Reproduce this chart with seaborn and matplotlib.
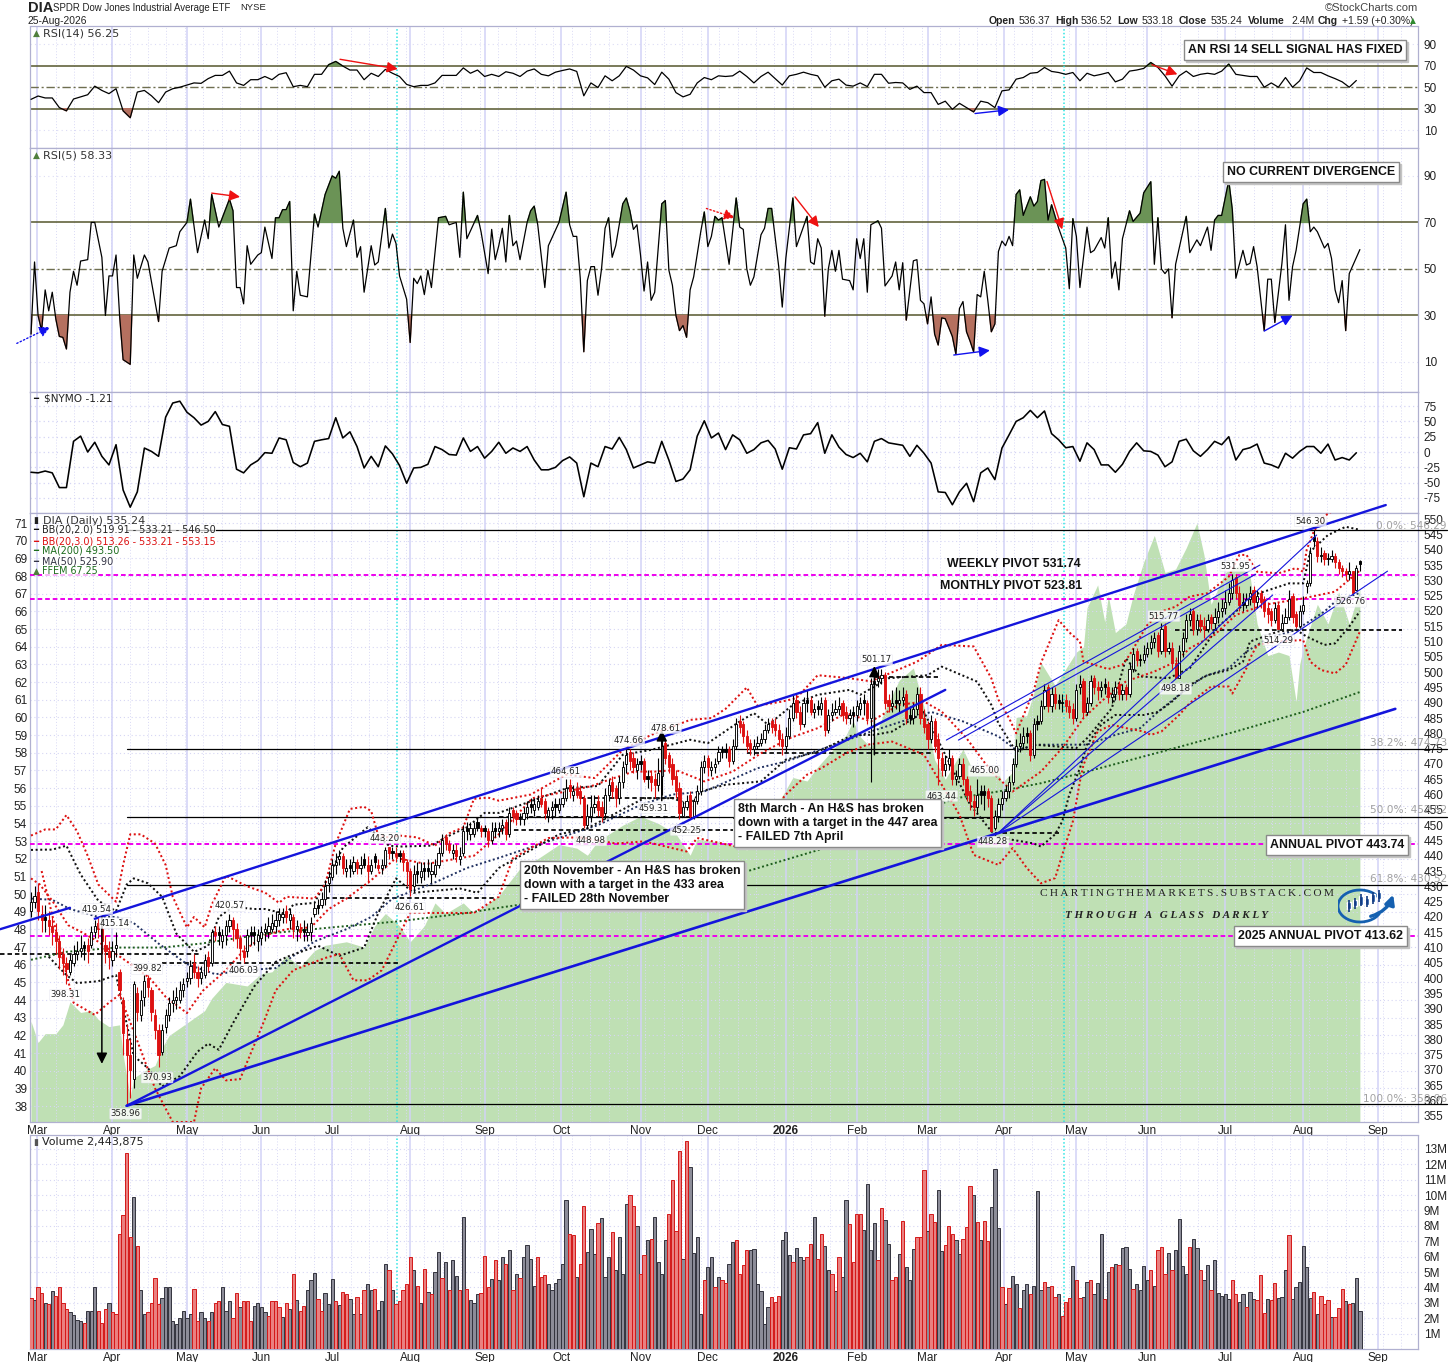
import matplotlib
matplotlib.use("Agg")
import matplotlib.pyplot as plt
import numpy as np
import seaborn as sns
from matplotlib.patches import Arc

W, H = 1456, 1362

# month labels and their bar numbers
month_labels = ["Mar", "Apr", "May", "Jun", "Jul", "Aug", "Sep", "Oct", "Nov", "Dec", "2026",
                "Feb", "Mar", "Apr", "May", "Jun", "Jul", "Aug", "Sep"]
month_bars = [1.7, 23, 44, 65, 85, 107, 128, 149.6, 172, 191, 213, 233, 253, 274.6, 295, 315, 337, 359, 380]
event_bars = [103.3, 291.5]

closes = [
    425, 427, 422, 419, 419, 417, 415, 412, 407, 405,
    403, 406, 408, 409, 410, 410, 409, 415, 417, 416,
    412, 409, 407, 409, 411, 396, 382, 375, 370, 398,
    389, 393, 399, 397, 389, 383, 375, 383, 388, 392,
    393, 394, 396, 398, 400, 404, 402, 400, 402, 406,
    404, 415, 414, 414, 414, 417, 419, 416, 413, 410,
    407, 414, 414, 414, 414, 415, 416, 417, 418, 419,
    421, 421, 420, 421, 416, 417, 415, 415, 415, 418,
    423, 423, 426, 430, 433, 437, 438, 440, 436, 436,
    436, 438, 436, 437, 437, 435, 437, 438, 436, 437,
    442, 441, 441, 440, 440, 438, 435, 429, 434, 434,
    435, 435, 435, 435, 437, 441, 445, 444, 442, 442,
    440, 440, 448, 448, 449, 449, 449, 448, 448, 445,
    448, 448, 449, 450, 447, 454, 453, 452, 452, 454,
    456, 456, 457, 458, 457, 454, 455, 456, 456, 457,
    459, 462, 461, 461, 460, 459, 450, 453, 456, 457,
    455, 453, 460, 463, 461, 459, 464, 469, 473, 471,
    469, 470, 470, 465, 465, 464, 463, 467, 476, 472,
    469, 465, 461, 454, 456, 458, 453, 458, 461, 469,
    471, 469, 469, 470, 474, 474, 474, 471, 476, 483,
    482, 479, 476, 475, 476, 477, 478, 481, 483, 482,
    481, 478, 476, 479, 485, 490, 487, 483, 490, 490,
    487, 488, 488, 490, 481, 486, 487, 488, 489, 486,
    485, 486, 486, 489, 490, 490, 485, 496, 497, 498,
    499, 490, 489, 490, 490, 491, 492, 485, 485, 488,
    493, 485, 482, 478, 484, 476, 472, 468, 470, 472,
    465, 466, 470, 465, 460, 458, 456, 460, 460, 460,
    459, 448, 453, 457, 459, 461, 464, 470, 476, 477,
    479, 479, 473, 483, 483, 489, 494, 489, 493, 490,
    490, 490, 489, 487, 485, 494, 496, 487, 490, 497,
    495, 494, 495, 495, 492, 493, 495, 493, 494, 493,
    501, 506, 504, 504, 506, 508, 510, 511, 507, 514,
    507, 508, 503, 498, 507, 511, 517, 519, 514, 517,
    515, 514, 517, 516, 518, 520, 521, 523, 526, 530,
    526, 522, 522, 524, 526, 523, 525, 523, 520, 519,
    517, 521, 514, 516, 518, 524, 518, 515, 520, 522,
    529, 539, 543, 538, 538, 537, 537, 538, 536, 534,
    533, 532, 533, 526, 534, 535.24,
]
opens = [
    422, 425, 428, 421, 420, 419, 417, 415, 412, 408,
    405, 402, 405, 408, 409, 411, 411, 411, 415, 418,
    416, 411, 409, 406, 410, 402, 393, 380, 375, 367,
    395, 388, 394, 400, 396, 388, 383, 376, 384, 388,
    392, 393, 393, 396, 399, 400, 405, 402, 400, 401,
    407, 405, 415, 415, 412, 414, 417, 419, 416, 413,
    409, 409, 415, 415, 412, 413, 415, 415, 416, 417,
    419, 420, 422, 419, 420, 416, 416, 416, 414, 415,
    421, 424, 424, 426, 431, 433, 437, 439, 440, 435,
    437, 435, 438, 436, 439, 437, 435, 440, 437, 436,
    437, 443, 441, 441, 441, 441, 438, 435, 430, 435,
    433, 436, 436, 434, 434, 437, 441, 446, 444, 441,
    442, 439, 441, 449, 447, 447, 451, 449, 449, 448,
    445, 449, 448, 449, 451, 447, 455, 454, 452, 452,
    454, 457, 455, 456, 459, 458, 453, 455, 457, 455,
    457, 459, 463, 460, 462, 461, 459, 450, 453, 456,
    458, 456, 454, 460, 464, 462, 459, 464, 470, 474,
    472, 468, 471, 471, 466, 466, 465, 463, 466, 477,
    473, 470, 466, 462, 453, 456, 460, 453, 458, 461,
    469, 472, 468, 469, 471, 475, 475, 475, 471, 476,
    484, 483, 479, 477, 475, 476, 477, 478, 481, 484,
    483, 481, 478, 476, 479, 485, 491, 487, 483, 491,
    491, 487, 489, 488, 491, 481, 486, 487, 488, 490,
    487, 485, 487, 486, 488, 491, 490, 485, 496, 497,
    498, 499, 491, 489, 491, 490, 491, 493, 486, 485,
    488, 493, 485, 483, 478, 484, 478, 472, 468, 470,
    472, 465, 466, 470, 465, 461, 458, 456, 461, 461,
    461, 459, 449, 453, 457, 459, 461, 464, 470, 476,
    477, 480, 480, 473, 484, 484, 489, 495, 489, 493,
    491, 490, 491, 489, 488, 485, 495, 497, 487, 490,
    498, 495, 494, 496, 495, 492, 493, 496, 493, 495,
    493, 501, 507, 504, 504, 506, 508, 510, 512, 507,
    515, 507, 508, 503, 498, 507, 511, 517, 520, 514,
    517, 515, 514, 518, 516, 518, 520, 521, 523, 526,
    531, 526, 523, 522, 524, 527, 523, 526, 524, 521,
    520, 517, 522, 514, 516, 518, 525, 519, 515, 520,
    528, 529, 544, 543, 538, 539, 537, 537, 538, 536,
    534, 533, 532, 533, 527, 536.37,
]
highs = [
    428, 430, 431, 424, 424, 422, 420, 418, 414, 410,
    407, 408, 411, 412, 414, 412, 413, 417, 419, 420,
    417, 414, 412, 412, 415, 403, 394, 385, 380, 399,
    397, 396, 401, 401, 397, 390, 385, 385, 390, 394,
    396, 397, 399, 400, 402, 406, 408, 404, 404, 408,
    409, 416, 417, 417, 416, 419, 421, 420, 418, 414,
    411, 416, 417, 417, 416, 417, 418, 420, 421, 422,
    423, 423, 424, 423, 421, 419, 418, 419, 418, 420,
    425, 426, 428, 432, 435, 439, 441, 442, 441, 439,
    439, 440, 439, 440, 441, 440, 439, 441, 439, 439,
    443, 443, 443, 443, 442, 442, 439, 436, 437, 438,
    438, 438, 439, 438, 439, 443, 447, 447, 445, 444,
    444, 443, 450, 451, 451, 451, 452, 450, 450, 449,
    451, 451, 451, 452, 452, 456, 456, 455, 454, 456,
    458, 459, 459, 460, 462, 459, 456, 458, 459, 459,
    461, 465, 465, 463, 464, 463, 460, 457, 460, 460,
    460, 458, 462, 465, 466, 463, 466, 471, 475, 475,
    474, 472, 473, 472, 468, 468, 467, 472, 479, 478,
    474, 472, 468, 464, 458, 460, 461, 459, 463, 471,
    473, 473, 471, 472, 476, 476, 477, 476, 478, 485,
    486, 484, 481, 478, 478, 479, 480, 483, 485, 485,
    485, 483, 480, 482, 488, 493, 493, 489, 492, 494,
    492, 490, 491, 492, 492, 488, 490, 491, 492, 491,
    489, 488, 489, 491, 492, 493, 491, 498, 499, 501,
    501, 500, 493, 494, 495, 494, 495, 494, 489, 490,
    495, 495, 488, 484, 486, 485, 480, 474, 473, 475,
    473, 468, 472, 472, 466, 463, 460, 465, 463, 463,
    462, 460, 455, 459, 461, 463, 466, 472, 478, 480,
    482, 482, 481, 485, 486, 491, 496, 496, 495, 495,
    493, 493, 493, 491, 490, 496, 499, 498, 492, 499,
    499, 497, 497, 498, 497, 495, 497, 497, 496, 496,
    503, 508, 508, 506, 509, 510, 512, 513, 513, 516,
    516, 510, 510, 505, 509, 513, 519, 521, 521, 519,
    519, 518, 519, 519, 521, 523, 524, 527, 529, 532,
    532, 528, 526, 526, 528, 528, 527, 527, 525, 523,
    521, 523, 523, 519, 521, 527, 526, 520, 522, 525,
    530, 541, 546.3, 544, 541, 540, 539, 540, 539, 537,
    535, 534, 536, 533, 535, 536.52,
]
lows = [
    420, 423, 419, 415, 415, 414, 411, 408, 403, 401,
    398, 401, 404, 406, 407, 406, 405, 410, 413, 413,
    408, 405, 403, 404, 407, 394, 375, 359, 361, 364,
    386, 386, 391, 394, 386, 380, 371, 375, 382, 386,
    389, 390, 392, 394, 397, 398, 400, 397, 398, 400,
    402, 404, 412, 411, 410, 411, 415, 412, 410, 406,
    405, 407, 411, 411, 409, 411, 412, 413, 415, 415,
    417, 418, 418, 416, 413, 412, 413, 412, 412, 412,
    420, 421, 423, 424, 428, 432, 434, 437, 434, 433,
    433, 434, 434, 434, 436, 431, 434, 436, 435, 434,
    436, 439, 439, 438, 438, 435, 430, 427, 428, 431,
    431, 432, 433, 431, 433, 436, 440, 442, 441, 439,
    438, 437, 440, 445, 445, 446, 448, 446, 446, 443,
    444, 446, 446, 447, 445, 446, 451, 450, 450, 450,
    452, 454, 453, 455, 456, 452, 451, 452, 453, 454,
    456, 458, 459, 458, 459, 457, 449, 449, 451, 454,
    453, 451, 452, 458, 459, 456, 457, 462, 467, 468,
    467, 465, 468, 464, 462, 461, 459, 461, 460, 470,
    467, 463, 459, 452, 453, 455, 452, 452, 457, 460,
    467, 466, 466, 467, 470, 472, 472, 469, 470, 475,
    480, 477, 474, 473, 473, 475, 476, 477, 480, 480,
    479, 476, 473, 474, 478, 484, 485, 481, 482, 487,
    486, 485, 486, 486, 479, 480, 484, 486, 486, 484,
    483, 483, 482, 484, 486, 486, 483, 464, 494, 495,
    496, 488, 487, 487, 488, 487, 489, 483, 483, 483,
    486, 483, 480, 475, 477, 474, 463, 466, 466, 468,
    463, 463, 465, 463, 458, 455, 453, 454, 457, 455,
    456, 448.28, 448.5, 451, 455, 458, 459, 463, 469, 474,
    475, 477, 471, 472, 481, 483, 488, 487, 487, 488,
    488, 487, 487, 485, 483, 484, 493, 485, 486, 489,
    493, 491, 492, 493, 490, 490, 491, 491, 491, 491,
    492, 500, 502, 502, 503, 505, 506, 508, 505, 506,
    505, 506, 501, 498.18, 498.5, 505, 510, 515, 512, 512,
    513, 511, 513, 514, 514, 516, 518, 519, 522, 524,
    524, 520, 520, 521, 522, 520, 521, 521, 518, 516,
    515, 516, 514.29, 514.5, 516, 517, 516, 514.5, 514.5, 519,
    526, 528, 541, 536, 536, 535, 535, 536, 534, 532,
    531, 530, 530, 526.76, 527, 533.18,
]

volumes = [
    3.3, 3.2, 4.0, 3.65, 3.0, 2.9, 3.75, 3.45, 4.0, 3.0,
    2.6, 2.4, 2.2, 1.9, 1.8, 1.7, 2.5, 2.5, 4.0, 2.5,
    1.7, 2.6, 3.0, 2.4, 2.3, 7.45, 8.7, 12.75, 7.3, 9.9,
    6.7, 3.85, 2.3, 2.4, 3.0, 4.6, 2.9, 3.3, 4.05, 4.05,
    1.85, 1.6, 2.0, 2.5, 2.0, 2.3, 3.9, 1.8, 2.4, 2.0,
    1.85, 2.4, 3.0, 3.1, 4.0, 2.5, 3.15, 2.0, 3.65, 2.7,
    3.15, 3.15, 1.8, 2.8, 3.0, 2.7, 2.4, 2.15, 3.1, 3.1,
    2.75, 2.05, 3.0, 2.6, 4.85, 3.2, 2.5, 2.8, 3.8, 4.45,
    4.95, 3.25, 2.45, 3.65, 2.9, 4.55, 3.1, 2.85, 3.7, 3.6,
    3.25, 2.3, 3.35, 2.25, 3.85, 4.25, 3.85, 3.9, 2.55, 3.1,
    5.55, 5.1, 3.8, 2.95, 3.1, 3.85, 4.25, 6.0, 5.1, 4.1,
    3.0, 5.2, 3.7, 3.6, 5.0, 6.3, 4.6, 5.65, 3.85, 5.8,
    4.75, 3.85, 8.55, 3.9, 3.2, 3.0, 3.6, 3.65, 6.05, 4.0,
    4.55, 5.8, 4.45, 6.0, 5.5, 6.4, 3.85, 4.9, 4.6, 6.0,
    6.75, 5.85, 4.1, 5.95, 4.65, 4.8, 4.2, 3.8, 4.3, 4.55,
    5.5, 9.7, 7.5, 7.4, 4.7, 5.5, 9.3, 6.3, 7.8, 6.2,
    8.2, 8.5, 4.65, 6.0, 7.6, 5.15, 7.3, 4.85, 9.45, 10.0,
    9.3, 8.0, 4.9, 6.1, 7.05, 7.15, 8.6, 5.65, 4.85, 7.1,
    8.75, 11.0, 7.65, 12.85, 5.85, 13.5, 11.85, 6.25, 7.25, 2.3,
    4.45, 5.3, 6.0, 4.0, 4.7, 4.45, 4.3, 5.55, 6.95, 7.1,
    4.9, 5.45, 6.45, 6.4, 6.5, 4.2, 3.75, 1.6, 2.7, 3.35,
    3.05, 3.45, 7.05, 7.6, 6.1, 5.65, 6.55, 6.0, 5.75, 6.0,
    6.8, 8.55, 5.85, 7.5, 6.7, 5.1, 4.9, 3.75, 6.0, 4.7,
    9.7, 8.15, 5.65, 8.8, 8.8, 7.75, 10.7, 6.4, 8.2, 5.75,
    9.15, 8.4, 6.8, 4.5, 4.7, 6.15, 8.3, 5.35, 4.5, 6.5,
    7.25, 7.25, 11.6, 7.65, 8.8, 8.25, 10.3, 6.35, 6.75, 8.0,
    7.5, 7.1, 6.2, 7.15, 7.9, 10.6, 10.0, 8.25, 7.05, 8.3,
    7.0, 9.2, 11.7, 7.85, 4.0, 2.9, 3.95, 4.75, 4.25, 2.65,
    3.85, 4.25, 3.55, 4.1, 10.25, 3.8, 4.35, 4.05, 4.1, 3.4, 3.6,
    2.15, 3.05, 3.3, 5.4, 4.45, 3.3, 3.4, 4.35, 4.5, 3.55,
    4.3, 7.45, 3.25, 5.0, 5.35, 5.55, 5.45, 6.55, 6.6, 5.2,
    3.9, 4.25, 3.8, 5.4, 4.45, 5.1, 4.1, 6.45, 6.6, 4.85,
    6.25, 5.15, 6.4, 8.45, 5.4, 4.85, 6.6, 7.15, 6.55, 5.1,
    4.45, 5.45, 3.8, 5.75, 3.65, 3.45, 3.6, 3.25, 4.5, 3.6,
    3.05, 3.55, 2.75, 3.7, 3.25, 3.2, 4.8, 2.35, 3.25, 3.2,
    4.3, 3.3, 3.4, 5.15, 7.4, 3.25, 4.0, 4.35, 6.7, 5.3, 3.3,
    3.7, 2.25, 3.45, 2.9, 3.2, 2.05, 2.1, 2.65, 3.9, 3.1,
    2.9, 3.0, 4.6, 2.44,
]
# r = down day, g = up day, one letter a bar
volume_colors = (
    "rgrrgrgrrr" "rggggrgggr" "rrgrrrrrrg" "rggrrrrggg" "ggggggrrgg" "rgrrgggrrg"
    "rrrggggrrr" "rgrgrgrrgg" "grrgggrgrr" "ggrgrggrgg" "grgrrrrrgr" "grgrggrgrg"
    "grgrgggrrr" "grggrgrgrg" "gggrrrgggg" "ggrrgrrggg" "rgggrggggr" "rgrrgrgggg"
    "rrrrgrgggg" "rggrgrrggr" "rrrggggggr" "rrgggrgggr" "rgrrggrgrg" "grrrrggggr"
    "rggrrgrggg" "rrrgrrggrr" "rggrrrgrgr" "rgggrgrggr" "ggrgggrgrrg" "rrrgrrggrg"
    "ggrgrgrggg" "rggggrgrr" "r" "grggggrggr" "ggrgggggrr" "ggrggrrrgr" "rgggrggggg"
    "g" "rgrrrgrrrg" "rggg"
)

# RSI(14), one reading every second bar
rsi14 = [
    38.7, 41.8, 40, 40, 31, 28, 39, 41, 43, 51, 47, 44, 48.6, 28, 21.6, 45.5, 47, 42, 35.6, 45.5,
    48.6, 50, 52, 54, 53.6, 58, 61, 61, 65, 54, 51.7, 57, 57, 60, 57, 62, 63.5, 50.5, 51.7, 50.5,
    62, 62, 71, 74, 69.7, 66, 66, 57, 63, 60, 66.6, 63, 60, 52.6, 50.5, 51.7, 51.7, 54, 61, 61,
    61, 68, 63, 66, 60, 62, 60, 64.4, 63, 60, 65, 67, 62, 60.6, 64, 65.6, 67, 64.7, 42, 54,
    49.7, 60.6, 56, 60.6, 69.4, 66, 60.6, 58.7, 52.5, 64, 57.5, 45, 41, 43.4, 54, 59, 57, 60.6, 60, 60.6,
    65, 60, 54, 60, 64, 58, 52, 60.6, 62, 64, 62, 60.6, 50, 56, 57.5, 52, 51, 54, 50.6, 62,
    62, 53.7, 54.4, 54, 48, 51, 45, 45, 34, 37, 29.4, 35, 31, 27, 37, 35.6, 31, 46.6, 47.5, 57.5,
    59, 63, 63.7, 68.4, 64.7, 63.7, 62, 63.7, 56, 63, 60.6, 62, 63.7, 55, 57.5, 65, 66, 67.5, 73, 68.4,
    60.6, 51, 60.6, 65, 60, 62, 63, 62, 65, 71.6, 62, 61, 60, 60, 50, 54, 50, 59, 50, 56,
    68, 63.7, 63.7, 60.6, 58, 55, 50, 56.25,
]
# RSI(5), turning points
rsi5_bars = [
    0, 1, 2, 3, 4, 5, 6, 7, 8, 9, 10, 11, 12, 13, 14, 16, 17, 18, 20, 21, 22, 23, 24, 25, 26, 28, 29, 30, 32, 33,
    36, 37, 39, 41, 42, 44, 45, 47, 49, 50, 51, 53, 56, 57, 58, 59, 60, 61, 62, 64, 65, 66, 68, 69, 70, 71, 72, 73, 74, 75,
    76, 78, 80, 81, 83, 85, 86, 87, 88, 89, 91, 92, 93, 94, 96, 97, 98, 100, 101, 102, 103, 104, 106, 107, 108, 109, 110, 111, 112, 113,
    115, 117, 118, 120, 121, 122, 123, 126, 127, 129, 130, 131, 132, 133, 134, 135, 136, 137, 138, 140, 141, 142, 143, 145, 146, 149, 151, 152, 153, 154,
    155, 156, 157, 158, 159, 160, 161, 162, 163, 164, 165, 167, 168, 169, 170, 171, 172, 173, 174, 175, 176, 178, 179, 180, 181, 182, 183, 184, 185, 186,
    187, 189, 190, 191, 192, 193, 194, 195, 197, 199, 200, 201, 202, 203, 204, 206, 207, 208, 209, 211, 212, 213, 215, 216, 219, 220, 221, 222, 223, 224,
    225, 226, 227, 228, 229, 231, 232, 233, 234, 235, 236, 237, 239, 240, 241, 243, 244, 245, 246, 247, 249, 250, 251, 252, 253, 254, 255, 256, 257, 258,
    260, 261, 262, 263, 264, 265, 266, 267, 268, 269, 270, 271, 272, 273, 274, 275, 276, 277, 278, 279, 280, 282, 283, 284, 285, 286, 287, 288, 290, 292,
    293, 294, 295, 296, 298, 299, 300, 302, 303, 304, 305, 306, 307, 308, 310, 311, 313, 314, 316, 317, 318, 319, 320, 321, 322, 323, 326, 327, 329, 330,
    332, 333, 334, 335, 336, 338, 339, 340, 342, 343, 344, 345, 346, 348, 349, 350, 351, 353, 354, 355, 356, 357, 359, 360, 361, 362, 363, 365, 366, 367,
    368, 369, 370, 371, 372, 375,
]
rsi5 = [
    22, 53, 30, 23.5, 41, 32, 40, 28.6, 21, 20.6, 15.6, 40, 49, 43, 53.4, 54, 70, 70, 55, 30, 47, 47, 56, 30, 11, 9, 56, 46, 56, 53,
    27.4, 49, 59, 60, 66, 70, 80, 57, 71, 63, 82, 68, 80, 75, 42, 42, 35, 60, 52, 56, 57, 68, 54.5, 72, 72, 75.5, 75.5, 79, 32, 49,
    38.7, 38, 73.6, 68, 82, 90, 89, 92, 67.5, 59.6, 71, 55, 59.6, 40, 60, 51.7, 53, 76, 59, 65, 61, 47, 37, 18.4, 46, 43.7, 47, 39, 49.5, 42,
    72, 72.6, 69, 70, 55, 83, 63, 73, 66, 48, 67, 54, 60, 67.5, 53, 73, 60, 62, 54, 70, 75, 77, 69, 42, 60, 70, 83, 69, 64, 64,
    46, 14.4, 45, 51, 51, 38.7, 50, 67.5, 72, 55, 60, 78, 80.5, 75, 67, 69, 56, 40.5, 53, 36.5, 40, 78, 79.4, 49.5, 43, 30, 23.5, 25.7, 20.6, 41,
    46.6, 66, 74.5, 59.6, 64, 72.6, 71, 72, 52, 80.5, 68, 67, 50, 43, 46.6, 64.7, 67.5, 76, 76, 51, 33.6, 54.5, 80.5, 59.6, 72.6, 53, 52, 63, 59, 29.7,
    50, 58, 49, 58, 45.6, 45, 41, 63, 54.5, 63, 40, 69, 70.7, 67.5, 42.7, 47, 53, 41, 52.7, 28, 53.5, 54, 36.5, 35, 26.4, 38, 22, 17.3, 29, 28.6,
    21, 13.4, 33, 36, 23, 19, 14.4, 39, 38, 49, 36.5, 23, 26.4, 57.5, 62, 60, 64, 60, 82, 84, 73, 81, 77, 79, 88, 88.5, 71, 77.6, 67.5, 59,
    41.5, 71.6, 64, 42, 68, 57, 58, 63.5, 59, 72, 46, 53, 41, 63, 75, 70.4, 74, 82.7, 87.5, 52, 72, 50, 48, 50, 29, 52, 72.6, 57, 62.5, 60,
    68, 58, 71, 73, 73, 88, 75.5, 46, 58, 51.7, 52.4, 59.6, 51, 23.5, 45.6, 45.6, 27, 52.4, 69, 36.5, 51, 58, 78, 80, 66, 68, 66, 59, 61, 54.5,
    41, 35.5, 45, 23.5, 48, 58.33,
]
# $NYMO, one reading every second bar
nymo = [
    -33, -34, -31, -34, -58, -58, 17.5, 26, 0, 16, -7, -21, 12, -62, -90, -65, 6.5, 1, -7, 57,
    80, 83, 65, 56, 44, 50, 66, 45, 42, -28, -34, -21, -14, -1, -2, 23, 20, -17, -24, -18,
    17.5, 20, 22, 56, 23, 33, 9, -26, -7, -24, 10, -3, -22, -51, -26, -25, -20, 9, 4, -4,
    -5, 23, 1, 9, -10, 1, 16, -2, 6.6, 1, 9, -13, -29, -29, -25, -14, -8, -18, -73, -18,
    -24, 9, 5, 24, 4, -26, -21, -16, -18, 17.5, -13, -48, -44, -29, 26, 51, 23, 31, 4, 28,
    20, -2, 4, 15, 19, 5, -28, 7, 5, 28, 30, 48, -2, 28, 8, -4, -9, -2, -16, 17.5,
    22, 15, 13, 11, -7, 11, -2, -18, -65, -66, -86, -65, -51, -81, -34, -26, -45, 6.5, 28, 50,
    56, 68, 56, 67, 30, 20, 7, 9, -15, 15, 4, -21, -21, -33, -20, 1, 15, 2, 1, -5,
    -24, -16, 17.5, 21, 2, -7, 4, 17.5, 12, 25, -13, 4, 7, 13, -18, -21, -26, -2, -10, 1,
    9, 9, -2, 13, -13, -9, -13, -1.21,
]

# FFEM area on the left hand scale
ffem_bars = [
    0, 2, 4, 7, 9, 11, 14, 17, 19, 22, 25, 26, 28, 29, 33, 35, 37, 39, 44, 49, 51, 55, 61, 65, 68, 72, 76, 80, 83, 89,
    94, 97, 100, 104, 107, 111, 114, 117, 122, 125, 132, 138, 143, 149, 154, 157, 160, 167, 172, 177, 182, 186, 188, 196, 202, 206, 213, 215, 219, 222,
    226, 230, 232, 234, 237, 241, 245, 249, 252, 255, 258, 263, 266, 273, 274, 277, 278, 281, 283, 285, 289, 295, 297, 298, 301, 303, 304, 306, 309, 311,
    314, 317, 320, 323, 326, 329, 331, 333, 337, 341, 344, 346, 349, 352, 355, 357, 358, 359, 363, 366, 369, 372, 375,
]
ffem = [
    42.8, 41.6, 42.1, 42.1, 42.6, 43.9, 43.3, 43.4, 42.9, 42.5, 42.6, 40.9, 38.5, 39.6, 40.1, 40.3, 41.3, 42, 42.7, 43.4, 44.1, 45, 44.8, 45.5, 45.6, 46.5, 45.9, 46.8, 47.1, 47.3,
    47, 48.2, 48.9, 48.2, 47.3, 48.2, 49.5, 48.9, 49.5, 48.9, 49.9, 51.45, 52, 52.8, 52.6, 52.2, 53, 53.9, 54.4, 54, 53.4, 52.2, 53.1, 52.9, 52.5, 53.4, 55.9, 56.6, 56.4, 57.2,
    58.1, 59, 59.8, 58.9, 58.3, 60.4, 62.1, 62.8, 60.6, 57.6, 56.5, 58.2, 56.9, 56.9, 56.3, 56.9, 60, 60.1, 61.4, 63.1, 61.8, 63.7, 64, 66.2, 67.5, 65.4, 66.9, 64.8, 65.3, 66.9,
    68.8, 70.3, 68.2, 68.4, 69.6, 71, 69.2, 66.4, 68.2, 68.6, 68, 65.3, 63.5, 63.7, 63.5, 60.9, 63, 63.9, 66.4, 65.3, 67.1, 65.3, 67.25,
]

# Bollinger bands and moving averages
bb3_up_bars = [0, 4, 7, 10, 13, 16, 19, 24, 26, 28, 31, 35, 38, 40, 44, 46, 49, 51, 55, 61, 66, 70, 72, 80, 83, 86, 90, 94, 96, 98,
               101, 104, 109, 114, 118, 122, 125, 129, 132, 141, 151, 159, 167, 175, 186, 192, 196, 202, 205, 212, 216, 222, 231, 237, 250, 257, 266, 271, 273, 276,
               278, 283, 285, 290, 293, 296, 297, 304, 308, 310, 315, 319, 323, 327, 332, 338, 341, 343, 346, 352, 357, 359, 360, 362, 365, 372, 375]
bb3_up = [446.6, 448.6, 448.6, 453.3, 448, 440, 430.6, 425, 437, 447, 447, 444, 437, 426.6, 416.6, 420, 416.6, 424, 433.5, 430, 428, 424.6, 426.6, 426, 430.6, 444, 455.3, 456, 454.6, 446.6,
          446, 446.6, 446, 443.3, 447.3, 449.3, 458.6, 459, 458, 460, 466.5, 465.4, 474.6, 479.5, 484.4, 485, 488, 495, 489, 490.4, 491.5, 499, 498, 497, 503.4, 508.9, 508.4, 498, 491, 485,
          480, 494, 503, 517, 513, 510, 503.5, 501, 502.4, 505.6, 515.4, 519.8, 521.4, 524.7, 525.8, 531.2, 538.3, 538.3, 532.8, 532.3, 534, 532.8, 540, 546, 551, 556, 553.15]
bb3_mid_bars = [0, 2.5, 6, 10.5, 15, 19, 24, 29, 33.5, 38, 44, 48.5, 55, 60, 66, 72, 79, 84, 89, 96, 103, 111.5, 118, 125, 132,
                141.5, 151, 158, 163, 170, 176, 182, 190, 198, 206, 214, 222, 230, 237, 245, 252, 257, 264, 271, 277,
                285, 291, 297, 302, 309, 317, 323, 327, 334, 340, 348, 359, 368, 375]
bb3_mid = [432.6, 430.6, 425.3, 417.3, 414.6, 411.9, 407.9, 403.9, 400, 393.9, 388.6, 395.9, 402.6, 409, 414, 416, 416.6, 422.6, 426, 432, 439.3, 437.3, 438.6, 440, 447,
           458.8, 461, 462.7, 464.8, 467.5, 467.5, 468, 464.3, 467.5, 473.5, 478.4, 481.7, 486.6, 483.9, 489.3, 490.4, 487.1, 478.4, 467.5, 461,
           467.5, 475.2, 485, 490.4, 497, 500.2, 503.4, 507.8, 512.2, 518.7, 522, 524.1, 526.3, 533.21]
bb3_lo_bars = [3, 8, 12, 18, 22, 25, 29, 35, 40, 46, 48, 52, 55, 59, 66, 69, 74, 83, 87, 91, 95, 99, 107, 125, 132,
               136, 146, 155, 165, 173, 185, 188, 201, 213, 219, 223, 230, 236, 243, 252, 262, 266, 273, 277, 281,
               285, 289, 291, 294, 296, 297, 301, 305, 309, 314, 316, 319, 324, 327, 333, 338, 339, 343, 344, 346, 352, 359, 361, 364, 368, 371, 375]
bb3_lo = [435, 411, 392, 388, 392, 394.6, 382.6, 364, 353, 353, 364, 370.6, 366.6, 367, 386.6, 395.9, 402.6, 406.6, 407.9, 399.3, 399.3, 402.6, 421.3, 421.3, 426.6,
          439.2, 445.8, 446, 444, 444.7, 441.4, 445.8, 442.5, 460, 466.5, 468.6, 473.5, 476.3, 477.3, 473, 453.4, 440.3, 437, 442.5, 436,
          431, 432.7, 440.3, 451.2, 464.3, 469.7, 480.6, 482.8, 481.7, 480.6, 479.5, 480.6, 486, 489.9, 495.3, 495.3, 493, 501.3, 504.5, 508.9, 510, 510.5, 503.4, 500.7, 499.6, 502.4, 513.26]
bb2_up_bars = [0, 4, 6, 10, 14, 19, 24, 27, 29, 33, 37, 41, 46, 50, 53, 57, 63, 66, 72, 74, 80, 84, 88, 95, 101, 104, 113, 117, 123, 128, 132,
               151, 160, 167, 175, 186, 191, 200, 204, 208, 215, 222, 231, 234, 242, 253, 257, 267, 271, 273, 278, 283, 295, 298, 305, 309, 313,
               321, 327, 335, 340, 345, 355, 359, 361, 366, 371, 375]
bb2_up = [441.9, 442, 442, 443.3, 433.9, 425.3, 421.9, 430.6, 432.6, 431, 426.6, 414.6, 408.6, 410.6, 420, 423.3, 422.6, 422.6, 421, 424, 424.6, 433.3, 442.6, 449.3, 443.3, 443, 443.3, 446, 449.3, 454, 454,
          462, 462.8, 473, 474.6, 477.9, 476.8, 483.9, 486.6, 482.8, 489.3, 492.6, 494.2, 492.6, 498, 499, 501.8, 496.9, 489.3, 483.3, 474, 476.3, 475.2, 478.4, 488.2, 504.5, 498.6,
          498, 501.3, 514.9, 519.8, 525.2, 529, 529, 539.4, 544.8, 547.5, 546.5]
bb2_lo_bars = [5, 10, 13, 19, 24, 29, 33, 37, 42, 47, 50, 53, 57, 63, 69, 73, 81, 87, 94, 98, 103, 108, 121, 126, 132,
               149, 157, 173, 181, 186, 189, 196, 206, 213, 222, 232, 238, 243, 252, 258, 265, 271, 273, 283, 285,
               289, 291, 293, 296, 298, 302, 306, 309, 314, 318, 322, 327, 332, 338, 342, 344, 352, 357, 360, 365, 368, 372, 375]
bb2_lo = [407, 401, 398.4, 399, 401, 374.6, 370.6, 364.6, 368, 376, 378.6, 376.6, 385.3, 397.3, 405.3, 407.3, 410.6, 407.3, 410, 421.3, 432.6, 427.9, 429.3, 427.9, 436,
          447, 449, 458.8, 458.8, 456.7, 461, 463.2, 464.3, 471.4, 474, 479.5, 479.5, 480.6, 487, 473, 456.7, 448, 446, 444, 443,
          447, 451.2, 460, 468.6, 476.3, 482.8, 486, 486, 486, 487, 490.4, 495.8, 499, 500.7, 503.4, 510, 513.3, 513.8, 511.6, 508.9, 509.4, 514.9, 519.91]
ma50_bars = [0, 6, 11, 19, 24, 29, 36, 44, 52, 61, 69, 80, 89, 96, 102, 108, 114, 123, 132, 146, 160, 172, 181, 190, 205, 213, 226, 237, 254, 263, 273,
             278, 284, 298, 306, 313, 318, 324, 331, 338, 343, 349, 357, 365, 368, 375]
ma50 = [426, 425.6, 422.6, 420, 420, 418, 411.3, 404.6, 401.3, 402.6, 403.3, 412, 416, 420, 426, 428.6, 431.3, 436, 439.3, 444.7, 450, 456.6, 460, 461, 468.6, 470.8, 476, 480.6, 487, 483.9, 479,
        474.6, 476.3, 476.3, 479.5, 481.7, 487, 492.6, 498.6, 501.3, 506.7, 511, 513.8, 519.8, 523, 525.9]
ma200_bars = [0, 10, 24, 37, 48, 67, 85, 104, 123, 132, 202, 224, 261, 273, 285, 298, 319, 340, 359, 375]
ma200 = [406, 408.6, 410, 410, 411.3, 414.6, 416.6, 418.6, 421.3, 423, 434.9, 442.5, 458.8, 461, 463.7, 467.5, 474, 480.6, 487, 493.5]

# trend lines: first bar, first price, last bar, last price, width
trend_lines = [
    (-8.7, 416, 11, 423, 1.7), (18, 419.4, 382.3, 554.6, 1.7), (27, 358.3, 258, 494.2, 1.7), (27, 358.3, 385, 488, 1.9),
    (273, 447.5, 362.8, 544.8, 0.8), (273, 447.5, 350.4, 525.2, 0.8), (273, 447.5, 382.8, 533, 0.8),
    (258.3, 477.8, 346.8, 535, 0.8), (261.7, 477.8, 345.6, 532, 0.8),
]
# neckline dashes: first bar, last bar, price
neck_lines = [
    (-8.7, 47.6, 408), (37, 104, 405), (83, 131, 426.3), (155, 183, 458.8), (132, 198, 448.4), (132, 188, 452.5),
    (198, 272, 452.3), (272, 290, 447.4), (202, 254, 473.5), (238, 256, 498.5), (322.7, 387, 513.8),
]
fib_levels = [546.29, 474.73, 452.52, 430.52, 358.96]
pivot_levels = [531.74, 523.81, 443.74, 413.62]
price_labels = [
    ("419.54", 18.6, 422.6), ("415.14", 23.7, 418), ("398.31", 9.7, 394.5), ("399.82", 32.7, 403), ("370.93", 35.6, 367.5),
    ("358.96", 26.7, 355.7), ("420.57", 56, 423.6), ("406.03", 60, 402.4), ("443.20", 99.8, 445.8), ("426.61", 106.8, 423),
    ("464.61", 151, 467.4), ("448.98", 158, 445), ("474.66", 168.7, 477.5), ("478.61", 179, 481.7), ("459.31", 175.8, 455.6),
    ("452.25", 184.9, 448.4), ("501.17", 238.6, 504), ("463.44", 257, 459.5), ("465.00", 269, 467.7), ("448.28", 271.5, 444.5),
    ("546.30", 361, 549.3), ("531.95", 340, 534.6), ("515.77", 319.7, 518.3), ("498.18", 323, 494.5), ("514.29", 352, 510.5),
    ("526.76", 372.4, 523),
]

sns.set_theme(style="white")
plt.rcParams["font.family"] = ["Liberation Sans", "DejaVu Sans"]
plt.rcParams["axes.unicode_minus"] = False
fig = plt.figure(figsize=(W / 100, H / 100), dpi=100, facecolor="white")

GRID = "#d2d2f6"
OLIVE = "#55562c"
XMIN, XMAX = -0.28, 391.4


def px(x, y):
    return x / W, 1 - y / H


def panel(top, bottom, ylim):
    ax = fig.add_axes([30 / W, 1 - bottom / H, 1388 / W, (bottom - top) / H])
    ax.set_xlim(XMIN, XMAX)
    ax.set_ylim(*ylim)
    ax.set_facecolor("white")
    for s in ax.spines.values():
        s.set_color("#b0b0d0")
        s.set_linewidth(0.9)
        s.set_linestyle((0, (1, 1)))
    ax.set_xticks([])
    # weekly and monthly lines
    for b in np.arange(7, 391, 5.2):
        ax.axvline(b, color="#d9d9f5", lw=0.7, ls=(0, (1, 2)), zorder=1.2)
    for b in month_bars:
        ax.axvline(b, color=GRID, lw=1.1, zorder=1.3)
    for b in event_bars:
        ax.axvline(b, color="#2fe4e4", lw=1.1, ls=(0, (1, 1.4)), zorder=2.5)
    return ax


def right_ticks(ax, ticks, labels=None):
    ax.yaxis.tick_right()
    ax.set_yticks(ticks)
    if labels is not None:
        ax.set_yticklabels(labels)
    ax.tick_params(axis="y", length=0, pad=4, labelsize=8.5, colors="#222222")


def guide_lines(ax, low, mid, high):
    ax.axhline(high, color=OLIVE, lw=1.1, zorder=2)
    ax.axhline(low, color=OLIVE, lw=1.1, zorder=2)
    ax.axhline(mid, color="#6e6e50", lw=1.0, ls=(0, (6, 2, 1.5, 2)), zorder=2)


def arrow(ax, x0, y0, x1, y1, color, dotted=False):
    ax.annotate("", xy=(x1, y1), xytext=(x0, y0), annotation_clip=False, zorder=6,
                arrowprops=dict(arrowstyle="-|>", color=color, lw=1.0, mutation_scale=16, shrinkA=0, shrinkB=0,
                                ls=":" if dotted else "-"))


def note(x, y, text, size=8.9, box=True):
    kw = dict(boxstyle="square,pad=0.3", fc="white", ec="#8a8a8a", lw=1.0) if box else None
    if box:
        # soft shadow behind the note
        fig.text(*px(x + 2, y + 2), text, fontsize=size, weight="bold", va="center", ha="left", color="#c4c4c4", zorder=3.5,
                 linespacing=1.25, bbox=dict(boxstyle="square,pad=0.3", fc="#c4c4c4", ec="#c4c4c4", lw=1.0))
    fig.text(*px(x, y), text, fontsize=size, weight="bold", va="center", ha="left", color="#111111", zorder=4,
             linespacing=1.25, bbox=kw)


# RSI 14
ax1 = panel(26, 148, (-6.6, 107))
for lv in (10, 90):
    ax1.axhline(lv, color="#dcdcf5", lw=0.8, ls=(0, (1, 3)), zorder=1)
guide_lines(ax1, 30, 50, 70)
rsi14_bars = np.arange(0, 376, 2)
ax1.fill_between(rsi14_bars, rsi14, 70, where=np.array(rsi14) > 70, interpolate=True, color="#6b9356", zorder=2.2)
ax1.fill_between(rsi14_bars, rsi14, 30, where=np.array(rsi14) < 30, interpolate=True, color="#b5705f", zorder=2.2)
sns.lineplot(x=rsi14_bars, y=rsi14, ax=ax1, color="black", linewidth=0.9, estimator=None, zorder=3)
right_ticks(ax1, [10, 30, 50, 70, 90])
arrow(ax1, 87.2, 76, 103.5, 67, "#ee1111")
arrow(ax1, 316.3, 71, 323.5, 62, "#ee1111")
arrow(ax1, 266.4, 25.5, 276, 29, "#1111ee")

# RSI 5
ax2 = panel(148, 392, (-2.9, 102))
for lv in (10, 90):
    ax2.axhline(lv, color="#dcdcf5", lw=0.8, ls=(0, (1, 3)), zorder=1)
guide_lines(ax2, 30, 50, 70)
ax2.fill_between(rsi5_bars, rsi5, 70, where=np.array(rsi5) > 70, interpolate=True, color="#6b9356", zorder=2.2)
ax2.fill_between(rsi5_bars, rsi5, 30, where=np.array(rsi5) < 30, interpolate=True, color="#b5705f", zorder=2.2)
sns.lineplot(x=rsi5_bars, y=rsi5, ax=ax2, color="black", linewidth=0.9, estimator=None, zorder=3)
right_ticks(ax2, [10, 30, 50, 70, 90])
arrow(ax2, -4, 18, 5.4, 25, "#1111ee", dotted=True)
arrow(ax2, 51, 82.6, 59, 81, "#ee1111")
arrow(ax2, 190.6, 76, 198.6, 72, "#ee1111", dotted=True)
arrow(ax2, 215.6, 81, 222.3, 68, "#ee1111")
arrow(ax2, 260.4, 13, 270.6, 15, "#1111ee")
arrow(ax2, 286.7, 87.6, 291, 67, "#ee1111")
arrow(ax2, 348, 23.3, 356, 30, "#1111ee")

# NYMO
ax3 = panel(392, 513, (-99.5, 98))
for lv in (-75, -50, -25, 0, 25, 50, 75):
    ax3.axhline(lv, color="#d4d4f4", lw=0.9, ls=(0, (1, 2.5)), zorder=1)
sns.lineplot(x=np.arange(0, 376, 2), y=nymo, ax=ax3, color="black", linewidth=1.15, estimator=None, zorder=3)
right_ticks(ax3, [-75, -50, -25, 0, 25, 50, 75])

# main panel: the base axes carries the FFEM area on the left scale
ax4 = panel(513, 1122, (37.1, 71.57))
ax4.fill_between(ffem_bars, ffem, 30, color="#bfe0b4", lw=0, zorder=1)
ax4.set_yticks(np.arange(38, 72))
ax4.tick_params(axis="y", length=0, pad=2, labelsize=8.5, colors="#222222")
ax4.yaxis.tick_left()
for lv in np.arange(38, 72):
    ax4.axhline(lv, color="#d6d6f4", lw=0.8, ls=(0, (1, 2.5)), zorder=1.1)
ax4.set_xticks(month_bars)
ax4.set_xticklabels(month_labels)
ax4.tick_params(axis="x", length=0, pad=2, labelsize=8.5, colors="#222222")
ax4.get_xticklabels()[10].set_weight("bold")

pr = ax4.twinx()
pr.set_xlim(XMIN, XMAX)
pr.set_ylim(353, 552)
pr.patch.set_visible(False)
for s in pr.spines.values():
    s.set_visible(False)
right_ticks(pr, np.arange(355, 551, 5))

for lv in fib_levels:
    pr.plot([27, 399.5], [lv, lv], color="black", lw=0.9, clip_on=False, zorder=3)
for lv in pivot_levels:
    pr.plot([XMIN, XMAX], [lv, lv], color="#ee00ee", lw=1.4, ls=(0, (2.4, 1.5)), zorder=3.2)
for b0, b1, lv in neck_lines:
    pr.plot([b0, b1], [lv, lv], color="black", lw=1.25, ls=(0, (2.6, 1.7)), clip_on=False, zorder=3.3)

dot = (0, (1, 1.3))
sns.lineplot(x=ma200_bars, y=ma200, ax=pr, color="#1c5c1c", linewidth=1.4, linestyle=dot, estimator=None, zorder=3.4)
sns.lineplot(x=ma50_bars, y=ma50, ax=pr, color="#1f2f5f", linewidth=1.4, linestyle=dot, estimator=None, zorder=3.4)
sns.lineplot(x=bb2_up_bars, y=bb2_up, ax=pr, color="#111111", linewidth=1.45, linestyle=dot, estimator=None, zorder=3.5)
sns.lineplot(x=bb2_lo_bars, y=bb2_lo, ax=pr, color="#111111", linewidth=1.45, linestyle=dot, estimator=None, zorder=3.5)
sns.lineplot(x=bb3_up_bars, y=bb3_up, ax=pr, color="#dd1111", linewidth=1.45, linestyle=dot, estimator=None, zorder=3.5)
sns.lineplot(x=bb3_mid_bars, y=bb3_mid, ax=pr, color="#dd1111", linewidth=1.45, linestyle=dot, estimator=None, zorder=3.5)
sns.lineplot(x=bb3_lo_bars, y=bb3_lo, ax=pr, color="#dd1111", linewidth=1.45, linestyle=dot, estimator=None, zorder=3.5)
pr.set_ylim(353, 552)
pr.set_xlim(XMIN, XMAX)
pr.set_xlabel("")
pr.set_ylabel("")

# candles: hollow when the day closed up, red when below the prior close
bars = np.arange(len(closes))
o, c, hi, lo = map(np.array, (opens, closes, highs, lows))
prev = np.r_[o[0], c[:-1]]
colors = np.where(c >= prev, "black", "#dd1111")
pr.vlines(bars, lo, hi, colors=colors, lw=0.8, zorder=4)
body_bottom = np.minimum(o, c)
body_height = np.maximum(np.abs(c - o), 0.4)
faces = [("white" if c[i] > o[i] else colors[i]) for i in bars]
pr.bar(bars, body_height, bottom=body_bottom, width=0.62, color=faces, edgecolor=colors, linewidth=0.65, zorder=4.2)

for b0, p0, b1, p1, lw in trend_lines:
    pr.plot([b0, b1], [p0, p1], color="#1414dc", lw=lw, solid_capstyle="round", clip_on=False, zorder=5)

# big arrows at the pattern targets
pr.annotate("", xy=(20, 372), xytext=(20, 420), zorder=5,
            arrowprops=dict(arrowstyle="-|>", color="black", lw=1.1, mutation_scale=16, shrinkA=0, shrinkB=0))
pr.annotate("", xy=(178, 481), xytext=(178, 458), zorder=5,
            arrowprops=dict(arrowstyle="-|>", color="black", lw=1.1, mutation_scale=16, shrinkA=0, shrinkB=0))
pr.annotate("", xy=(238, 502), xytext=(238, 473), zorder=5,
            arrowprops=dict(arrowstyle="-|>", color="black", lw=1.1, mutation_scale=16, shrinkA=0, shrinkB=0))

for text, b, p in price_labels:
    pr.text(b, p, text, fontsize=6.2, ha="center", va="center", family="DejaVu Sans", color="#222222", zorder=5.5,
            bbox=dict(boxstyle="round,pad=0.1", fc="white", ec="#e3e3ee", lw=0.4, alpha=0.8))

# volume
ax5 = panel(1135, 1349, (0, 13.9))
for lv in range(1, 14):
    ax5.axhline(lv, color="#d6d6f4", lw=0.8, ls=(0, (1, 2.5)), zorder=1)
vol = np.array(volumes)
flags = np.array(list(volume_colors)[:len(vol)] + ["g"] * max(0, len(vol) - len(volume_colors)))
vol_bars = np.arange(len(vol))
for flag, face, edge in (("g", "#8c8c98", "#33333d"), ("r", "#ea8080", "#d41818")):
    mask = flags == flag
    sns.barplot(x=vol_bars[mask], y=vol[mask], native_scale=True, ax=ax5, color=face, saturation=1,
                edgecolor=edge, linewidth=0.7, width=0.92, zorder=3)
ax5.set_xlim(XMIN, XMAX)
ax5.set_ylim(0, 13.9)
ax5.set_xlabel("")
ax5.set_ylabel("")
right_ticks(ax5, list(range(1, 14)), ["%dM" % v for v in range(1, 14)])
ax5.set_xticks(month_bars)
ax5.set_xticklabels(month_labels)
ax5.tick_params(axis="x", length=0, pad=2, labelsize=8.5, colors="#222222")
ax5.get_xticklabels()[10].set_weight("bold")

# header
fig.text(*px(28, 8), "DIA", fontsize=10.5, weight="bold", va="center", color="#222222")
fig.text(*px(53, 8), "SPDR Dow Jones Industrial Average ETF", fontsize=6.9, va="center", color="#222222")
fig.text(*px(240, 8), "NYSE", fontsize=6.8, va="center", color="#222222")
fig.text(*px(28, 21), "25-Aug-2026", fontsize=7.4, va="center", color="#222222")
fig.text(*px(1418, 8), "\u00a9StockCharts.com", fontsize=8, ha="right", va="center", color="#444444")
header_bits = [
    (989, "Open", True), (1019, "536.37", False), (1055, "High", True), (1081, "536.52", False),
    (1117, "Low", True), (1142, "533.18", False), (1179, "Close", True), (1211, "535.24", False),
    (1248, "Volume", True), (1291, "2.4M", False), (1318, "Chg", True), (1342, "+1.59 (+0.30%)", False),
]
for x, text, bold in header_bits:
    fig.text(*px(x, 21), text, fontsize=7.5, va="center", weight="bold" if bold else "normal", color="#222222")
fig.text(*px(1410, 21), "\u25b2", fontsize=5.5, va="center", color="#2e8b2e", family="DejaVu Sans")

# panel captions
fig.text(*px(43, 33), "RSI(14) 56.25", fontsize=8, va="center", color="#333333", family="DejaVu Sans", zorder=4)
fig.text(*px(43, 155), "RSI(5) 58.33", fontsize=8, va="center", color="#333333", family="DejaVu Sans", zorder=4)
fig.text(*px(44, 398), "$NYMO -1.21", fontsize=7.6, va="center", color="#222222", family="DejaVu Sans", zorder=4)
fig.text(*px(43, 521), "DIA (Daily) 535.24", fontsize=8, va="center", color="#333333", family="DejaVu Sans", zorder=4)
fig.text(*px(42, 1142), "Volume 2,443,875", fontsize=8, va="center", color="#222222", family="DejaVu Sans", zorder=4)
legend_rows = [
    (530, "BB(20,2.0) 519.91 - 533.21 - 546.50", "#222222"), (541, "BB(20,3.0) 513.26 - 533.21 - 553.15", "#dd1111"),
    (551, "MA(200) 493.50", "#1c6c1c"), (561, "MA(50) 525.90", "#333344"), (571, "FFEM 67.25", "#1c6c1c"),
]
for y, text, color in legend_rows:
    fig.text(*px(42, y), text, fontsize=6.9, va="center", color=color, family="DejaVu Sans", zorder=4,
             bbox=dict(boxstyle="square,pad=0.05", fc="white", ec="none", alpha=0.7))
for x0, y, color in [(33, 398, "#111111"), (33, 530, "#111111"), (33, 541, "#dd1111"), (33, 551, "#1c6c1c"), (33, 561, "#333344")]:
    fig.text(*px(x0, y), "\u2501", fontsize=6, va="center", color=color, family="DejaVu Sans", zorder=4)
for x0, y in [(33, 33), (33, 155), (33, 571)]:
    fig.text(*px(x0, y), "\u25b2", fontsize=6.5, va="center", color="#4f7f3c", family="DejaVu Sans", zorder=4)
fig.text(*px(33, 521), "\u25ae", fontsize=6.5, va="center", color="#222222", family="DejaVu Sans", zorder=4)
fig.text(*px(33, 1142), "\u25ae", fontsize=6.5, va="center", color="#555555", family="DejaVu Sans", zorder=4)

# fibonacci captions
for y, text in [(526, "0.0%: 546.29"), (743, "38.2%: 474.73"), (810, "50.0%: 452.52"), (879, "61.8%: 430.52"), (1099, "100.0%: 358.96")]:
    fig.text(*px(1447, y), text, fontsize=7.6, ha="right", va="center", color="#a2a2a2", zorder=4, family="DejaVu Sans")

note(1188, 50, "AN RSI 14 SELL SIGNAL HAS FIXED")
note(1227, 172, "NO CURRENT DIVERGENCE")
note(947, 564, "WEEKLY PIVOT 531.74", box=False)
note(940, 586, "MONTHLY PIVOT 523.81", box=False)
note(738, 823, "8th March - An H&S has broken\ndown with a target in the 447 area\n- FAILED 7th April")
note(524, 885, "20th November - An H&S has broken\ndown with a target in the 433 area\n- FAILED 28th November")
note(1270, 845, "ANNUAL PIVOT 443.74")
note(1238, 936, "2025 ANNUAL PIVOT 413.62")

fig.text(*px(1040, 893), "\u2009".join("CHARTINGTHEMARKETS.SUBSTACK.COM"), fontsize=8.2, family="Liberation Serif", va="center",
         color="#222222", zorder=4)
fig.text(*px(1065, 916), " ".join("THROUGH A GLASS DARKLY"), fontsize=8.0, style="italic", weight="bold", family="Liberation Serif",
         va="center", color="#222222", zorder=4)

# small logo
logo = fig.add_axes([1338 / W, 1 - 924 / H, 58 / W, 40 / H])
logo.set_xlim(0, 58)
logo.set_ylim(40, 0)
logo.axis("off")
logo.add_patch(Arc((22, 22), 44, 32, theta1=20, theta2=340, color="#1560b0", lw=2.0))
logo_x = [11, 17, 23, 29, 35, 41]
logo_low = [28, 25, 22, 23, 20, 18]
logo_high = [16, 14, 10, 12, 8, 6]
logo.vlines(logo_x, logo_high, logo_low, color="#123a80", lw=1.2)
logo.bar(logo_x, [7, 6, 9, 7, 8, 7], bottom=[18, 16, 12, 14, 10, 8], width=3.5, color="#1a4fa0")
logo.annotate("", xy=(56, 8), xytext=(30, 33), arrowprops=dict(arrowstyle="-|>", color="#1560b0", lw=2.4, mutation_scale=14,
                                                               connectionstyle="arc3,rad=0.3"))

fig.savefig("out.png", dpi=100, facecolor="white")
